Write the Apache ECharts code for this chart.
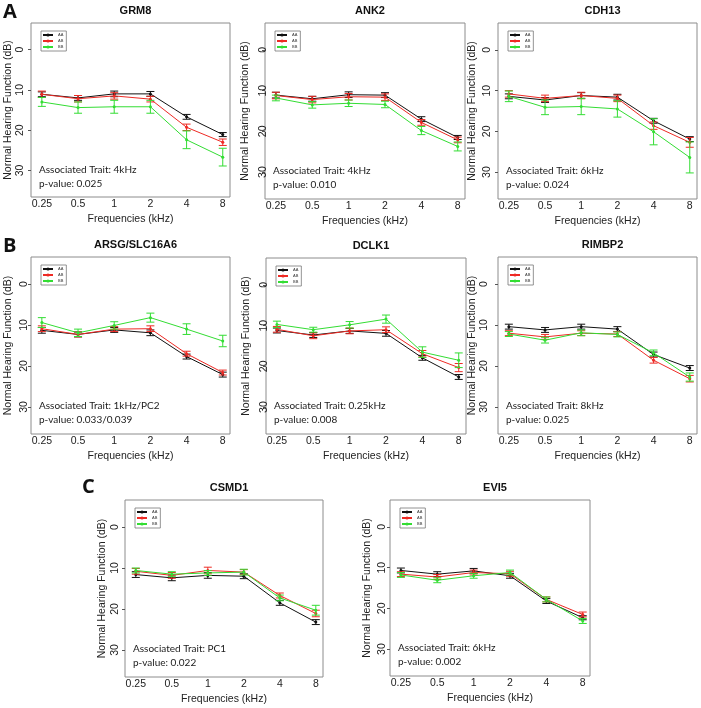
<!DOCTYPE html>
<html>
<head>
<meta charset="utf-8">
<script src="https://cdn.jsdelivr.net/npm/echarts@6/dist/echarts.min.js"></script>
<style>
html,body{margin:0;padding:0;background:#fff;}
#chart{width:701px;height:708px;}
</style>
</head>
<body>
<div id="chart"></div>
<script>
// ---------- data ----------
const freqLabels = ['0.25', '0.5', '1', '2', '4', '8'];
const freqPos = [1, 2, 3, 4, 5, 6];
const genotypes = ['AA', 'AB', 'BB'];
const yTicks = [0, 10, 20, 30];

const panelTitles = ['GRM8', 'ANK2', 'CDH13', 'ARSG/SLC16A6', 'DCLK1', 'RIMBP2', 'CSMD1', 'EVI5'];
const traitTexts = ['Associated Trait: 4kHz', 'Associated Trait: 4kHz', 'Associated Trait: 6kHz',
  'Associated Trait: 1kHz/PC2', 'Associated Trait: 0.25kHz', 'Associated Trait: 8kHz',
  'Associated Trait: PC1', 'Associated Trait: 6kHz'];
const pValueTexts = ['p-value: 0.025', 'p-value: 0.010', 'p-value: 0.024', 'p-value: 0.033/0.039',
  'p-value: 0.008', 'p-value: 0.025', 'p-value: 0.022', 'p-value: 0.002'];

// GRM8
const grm8AA = [11.1, 12.0, 11.0, 11.0, 16.7, 21.1];
const grm8AB = [11.1, 12.2, 11.5, 12.3, 19.3, 23.0];
const grm8BB = [13.0, 14.4, 14.2, 14.2, 22.4, 26.7];
const grm8AAerr = [0.6, 0.6, 0.7, 0.6, 0.6, 0.5];
const grm8ABerr = [0.8, 0.8, 0.8, 0.7, 0.8, 0.8];
const grm8BBerr = [1.1, 1.4, 1.6, 1.6, 2.2, 2.2];
// ANK2
const ank2AA = [11.1, 12.0, 11.0, 11.1, 17.0, 21.5];
const ank2AB = [11.2, 12.2, 11.5, 11.6, 17.8, 22.1];
const ank2BB = [11.8, 13.5, 13.1, 13.4, 19.8, 23.7];
const ank2AAerr = [0.7, 0.6, 0.7, 0.6, 0.6, 0.5];
const ank2ABerr = [0.8, 0.8, 0.8, 0.8, 0.7, 0.7];
const ank2BBerr = [0.7, 0.8, 0.8, 0.8, 1.0, 1.1];
// CDH13
const cdh13AA = [11.4, 12.3, 11.2, 11.6, 17.4, 21.9];
const cdh13AB = [10.8, 11.9, 11.2, 11.9, 18.6, 22.7];
const cdh13BB = [11.4, 14.1, 13.9, 14.5, 20.1, 26.4];
const cdh13AAerr = [0.6, 0.6, 0.7, 0.7, 0.6, 0.6];
const cdh13ABerr = [0.8, 0.8, 0.8, 0.8, 0.9, 1.2];
const cdh13BBerr = [1.3, 1.8, 2.0, 2.0, 3.2, 3.8];
// ARSG/SLC16A6
const arsgAA = [11.3, 12.3, 11.2, 11.9, 17.7, 22.1];
const arsgAB = [10.9, 12.3, 11.0, 10.9, 17.0, 21.6];
const arsgBB = [9.4, 11.9, 10.1, 8.2, 11.0, 13.9];
const arsgAAerr = [0.7, 0.6, 0.6, 0.7, 0.6, 0.6];
const arsgABerr = [0.7, 0.6, 0.6, 0.7, 0.6, 0.6];
const arsgBBerr = [1.2, 0.9, 0.9, 1.1, 1.3, 1.4];
// DCLK1
const dclk1AA = [11.2, 12.3, 11.3, 11.9, 17.9, 22.6];
const dclk1AB = [10.9, 12.5, 11.3, 11.0, 16.9, 20.3];
const dclk1BB = [9.7, 11.0, 9.8, 8.4, 16.5, 18.5];
const dclk1AAerr = [0.6, 0.6, 0.6, 0.7, 0.6, 0.6];
const dclk1ABerr = [0.7, 0.7, 0.7, 0.7, 0.8, 1.0];
const dclk1BBerr = [0.8, 0.6, 0.8, 1.0, 1.3, 1.8];
// RIMBP2
const rimbp2AA = [10.4, 11.2, 10.4, 11.0, 17.2, 20.5];
const rimbp2AB = [12.0, 12.9, 12.0, 12.2, 18.6, 23.1];
const rimbp2BB = [12.2, 13.7, 11.9, 12.3, 16.8, 22.7];
const rimbp2AAerr = [0.6, 0.6, 0.6, 0.6, 0.6, 0.6];
const rimbp2ABerr = [0.6, 0.6, 0.6, 0.6, 0.7, 0.8];
const rimbp2BBerr = [0.6, 0.7, 0.7, 0.6, 0.7, 1.0];
// CSMD1
const csmd1AA = [11.6, 12.4, 11.8, 12.0, 18.5, 23.2];
const csmd1AB = [10.8, 11.8, 10.6, 11.0, 16.7, 21.1];
const csmd1BB = [10.6, 11.5, 11.2, 11.0, 17.3, 20.3];
const csmd1AAerr = [0.7, 0.7, 0.7, 0.6, 0.6, 0.6];
const csmd1ABerr = [0.7, 0.7, 0.8, 0.6, 0.6, 0.8];
const csmd1BBerr = [0.6, 0.6, 0.6, 0.7, 0.7, 1.2];
// EVI5
const evi5AA = [10.7, 11.6, 10.8, 12.0, 18.2, 22.3];
const evi5AB = [11.6, 12.3, 11.2, 11.5, 17.8, 21.5];
const evi5BB = [11.8, 13.1, 12.0, 11.2, 17.8, 23.1];
const evi5AAerr = [0.6, 0.6, 0.6, 0.6, 0.6, 0.5];
const evi5ABerr = [0.6, 0.6, 0.6, 0.6, 0.6, 0.6];
const evi5BBerr = [0.6, 0.6, 0.6, 0.6, 0.6, 0.6];

const panelMeans = [
  [grm8AA, grm8AB, grm8BB], [ank2AA, ank2AB, ank2BB], [cdh13AA, cdh13AB, cdh13BB],
  [arsgAA, arsgAB, arsgBB], [dclk1AA, dclk1AB, dclk1BB], [rimbp2AA, rimbp2AB, rimbp2BB],
  [csmd1AA, csmd1AB, csmd1BB], [evi5AA, evi5AB, evi5BB]
];
const panelErrs = [
  [grm8AAerr, grm8ABerr, grm8BBerr], [ank2AAerr, ank2ABerr, ank2BBerr], [cdh13AAerr, cdh13ABerr, cdh13BBerr],
  [arsgAAerr, arsgABerr, arsgBBerr], [dclk1AAerr, dclk1ABerr, dclk1BBerr], [rimbp2AAerr, rimbp2ABerr, rimbp2BBerr],
  [csmd1AAerr, csmd1ABerr, csmd1BBerr], [evi5AAerr, evi5ABerr, evi5BBerr]
];

// ---------- layout / style ----------
const layout = [
  {l: 31, t: 23, w: 199, h: 174, lm: 5, ng: 17},
  {l: 265, t: 23, w: 200, h: 176, lm: -4, ng: 14},
  {l: 498, t: 23, w: 199, h: 176, lm: 5, ng: 20},
  {l: 31, t: 257, w: 199, h: 177, lm: 1, ng: 17},
  {l: 266, t: 258, w: 200, h: 176, lm: -4, ng: 14},
  {l: 498, t: 257, w: 199, h: 177, lm: 8, ng: 20},
  {l: 125, t: 500, w: 198, h: 177, lm: 4, ng: 17},
  {l: 390, t: 500, w: 200, h: 176, lm: 2, ng: 17}
];
const colors = ['#111111', '#ee2a24', '#33dd33'];
const Y_MIN = -6.6, Y_MAX = 36.6;
const axisFont = 'Liberation Sans, Arial, sans-serif';

const grids = [], xAxes = [], yAxes = [], series = [], titles = [], legends = [], graphics = [];

layout.forEach((g, i) => {
  grids.push({left: g.l, top: g.t, width: g.w, height: g.h, show: true,
    borderColor: '#8c8c8c', borderWidth: 1, backgroundColor: 'transparent'});
  xAxes.push({
    type: 'value', gridIndex: i, min: 0.7, max: 6.2, position: 'bottom',
    name: 'Frequencies (kHz)', nameLocation: 'middle', nameGap: 17,
    nameTextStyle: {fontFamily: axisFont, fontSize: 10.5, color: '#222'},
    axisLine: {show: false, onZero: false}, splitLine: {show: false},
    axisTick: {show: false},
    axisLabel: {customValues: freqPos, margin: 2, fontFamily: axisFont, fontSize: 10.5, color: '#222',
      formatter: v => freqLabels[Math.round(v) - 1]}
  });
  yAxes.push({
    type: 'value', gridIndex: i, inverse: true, min: Y_MIN, max: Y_MAX, position: 'left',
    name: 'Normal Hearing Function (dB)', nameLocation: 'middle', nameGap: g.ng, nameRotate: 90,
    nameTextStyle: {fontFamily: axisFont, fontSize: 10.5, color: '#222'},
    axisLine: {show: false, onZero: false}, splitLine: {show: false},
    axisTick: {show: true, length: 3, customValues: yTicks, lineStyle: {color: '#555'}},
    axisLabel: {customValues: yTicks, rotate: 90, margin: g.lm, fontFamily: axisFont, fontSize: 10.5, color: '#222'}
  });
  titles.push({text: panelTitles[i], left: g.l + g.w / 2, top: g.t - 23, textAlign: 'center',
    textStyle: {fontFamily: axisFont, fontSize: 11, fontWeight: 'bold', color: '#111'}});
  legends.push({
    data: genotypes, orient: 'vertical', left: g.l + 10, top: g.t + 8,
    itemWidth: 10, itemHeight: 4, itemGap: 2, padding: [2, 3, 2, 1],
    borderColor: '#777', borderWidth: 0.8, selectedMode: false,
    textStyle: {fontSize: 4, color: '#333', fontFamily: axisFont}
  });
  genotypes.forEach((gt, k) => {
    const m = panelMeans[i][k], e = panelErrs[i][k];
    series.push({
      type: 'line', name: gt, xAxisIndex: i, yAxisIndex: i,
      data: freqPos.map((x, j) => [x, m[j]]),
      symbol: 'circle', symbolSize: 3, showSymbol: true,
      lineStyle: {color: colors[k], width: 1}, itemStyle: {color: colors[k]},
      emphasis: {disabled: true}, silent: true, animation: false, z: 3 + k
    });
    series.push({
      type: 'custom', name: gt + ' err', xAxisIndex: i, yAxisIndex: i,
      data: freqPos.map((x, j) => [x, m[j] - e[j], m[j] + e[j]]),
      encode: {x: 0, y: [1, 2]}, silent: true, animation: false, z: 3 + k,
      renderItem: (params, api) => {
        const x = api.value(0);
        const p1 = api.coord([x, api.value(1)]);
        const p2 = api.coord([x, api.value(2)]);
        const w = 4;
        const st = {stroke: colors[k], lineWidth: 1};
        return {type: 'group', children: [
          {type: 'line', shape: {x1: p1[0], y1: p1[1], x2: p2[0], y2: p2[1]}, style: st},
          {type: 'line', shape: {x1: p1[0] - w, y1: p1[1], x2: p1[0] + w, y2: p1[1]}, style: st},
          {type: 'line', shape: {x1: p2[0] - w, y1: p2[1], x2: p2[0] + w, y2: p2[1]}, style: st}
        ]};
      }
    });
  });
  const y30 = g.t + (30 - Y_MIN) / (Y_MAX - Y_MIN) * g.h;
  graphics.push({type: 'text', left: g.l + 8, top: y30 - 6,
    style: {text: traitTexts[i], font: '10px Lato, sans-serif', fill: '#1a1a1a'}});
  graphics.push({type: 'text', left: g.l + 8, top: y30 + 8,
    style: {text: pValueTexts[i], font: '10px Lato, sans-serif', fill: '#1a1a1a'}});
});

const panelLetters = [{t: 'A', x: 3, y: 2}, {t: 'B', x: 3, y: 236}, {t: 'C', x: 82, y: 477}];
panelLetters.forEach(p => graphics.push({type: 'text', left: p.x, top: p.y,
  style: {text: p.t, font: 'bold 20px "Open Sans", sans-serif', fill: '#111'}}));

const chart = echarts.init(document.getElementById('chart'), null, {renderer: 'canvas'});
chart.setOption({
  animation: false,
  backgroundColor: '#fff',
  title: titles,
  legend: legends,
  grid: grids,
  xAxis: xAxes,
  yAxis: yAxes,
  series: series,
  graphic: graphics
});
</script>
</body>
</html>
